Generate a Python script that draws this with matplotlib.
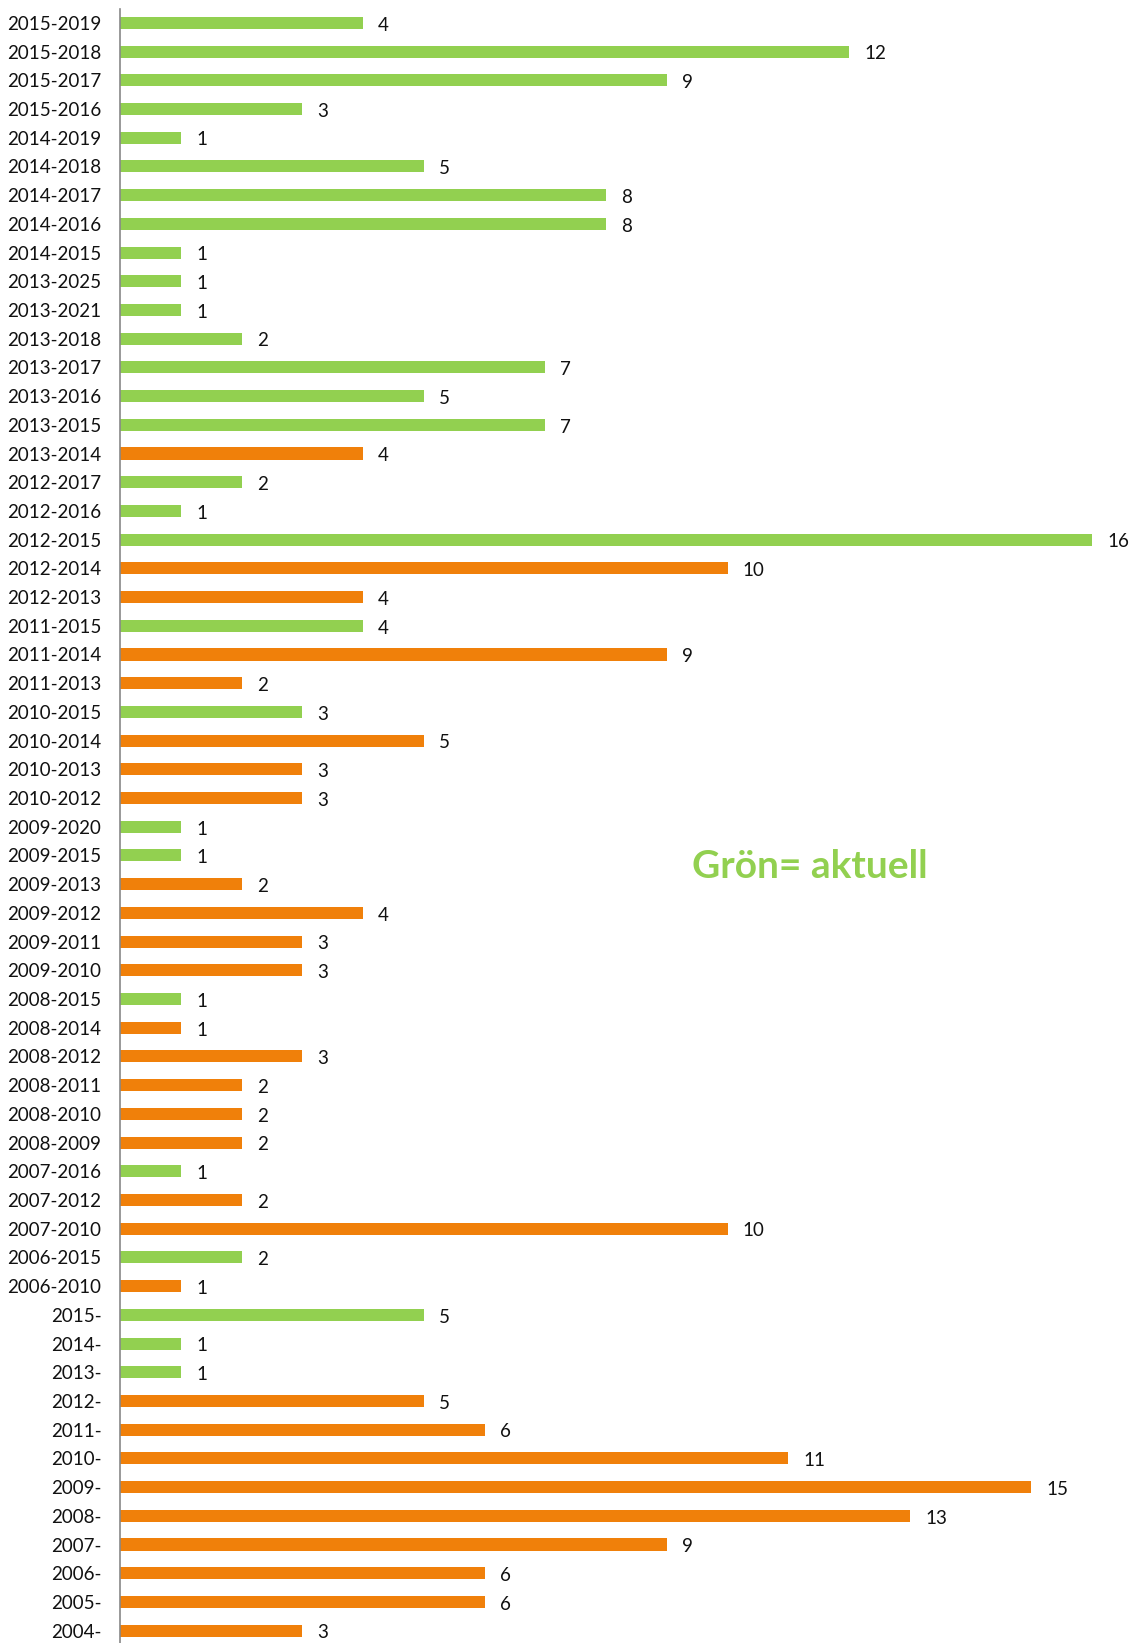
import matplotlib.pyplot as plt
import numpy as np

# periods, top to bottom as in the chart
perioder = ["2015-2019", "2015-2018", "2015-2017", "2015-2016", "2014-2019", "2014-2018",
            "2014-2017", "2014-2016", "2014-2015", "2013-2025", "2013-2021", "2013-2018",
            "2013-2017", "2013-2016", "2013-2015", "2013-2014", "2012-2017", "2012-2016",
            "2012-2015", "2012-2014", "2012-2013", "2011-2015", "2011-2014", "2011-2013",
            "2010-2015", "2010-2014", "2010-2013", "2010-2012", "2009-2020", "2009-2015",
            "2009-2013", "2009-2012", "2009-2011", "2009-2010", "2008-2015", "2008-2014",
            "2008-2012", "2008-2011", "2008-2010", "2008-2009", "2007-2016", "2007-2012",
            "2007-2010", "2006-2015", "2006-2010", "2015-", "2014-", "2013-", "2012-",
            "2011-", "2010-", "2009-", "2008-", "2007-", "2006-", "2005-", "2004-"]
antal = [4, 12, 9, 3, 1, 5, 8, 8, 1, 1, 1, 2, 7, 5, 7, 4, 2, 1, 16, 10, 4, 4, 9, 2,
         3, 5, 3, 3, 1, 1, 2, 4, 3, 3, 1, 1, 3, 2, 2, 2, 1, 2, 10, 2, 1, 5, 1, 1, 5,
         6, 11, 15, 13, 9, 6, 6, 3]
# 1 = aktuell (green), 0 = not (orange)
aktuell = [1, 1, 1, 1, 1, 1, 1, 1, 1, 1, 1, 1, 1, 1, 1, 0, 1, 1, 1, 0, 0, 1, 0, 0,
           1, 0, 0, 0, 1, 1, 0, 0, 0, 0, 1, 0, 0, 0, 0, 0, 1, 0, 0, 1, 0, 1, 1, 1, 0,
           0, 0, 0, 0, 0, 0, 0, 0]

gron = "#92D050"
orange = "#F0800A"
plt.rcParams['font.family'] = ['Lato', 'DejaVu Sans']

W, H = 1136, 1643
fig = plt.figure(figsize=(W / 100, H / 100), dpi=100)
ax = fig.add_axes([120 / W, -2 / H, 1 - 120 / W, (1636.5) / H])

y = np.arange(len(perioder))
farger = [gron if a else orange for a in aktuell]
ax.barh(y, antal, height=0.42, color=farger)

for yi, v in zip(y, antal):
    ax.text(v + 0.25, yi + 0.08, str(v), va="center", ha="left", fontsize=13.5,
            color="#111111")

ax.set_ylim(len(perioder) - 0.5, -0.5)
ax.set_xlim(0, (W - 120) / 60.75)
ax.set_yticks(y)
ax.set_yticklabels(perioder, fontsize=13.5, color="#111111")
ax.tick_params(axis="y", length=0, pad=13.5)
ax.set_xticks([])
for s in ["top", "right", "bottom"]:
    ax.spines[s].set_visible(False)
ax.spines["left"].set_color("#888888")
ax.spines["left"].set_linewidth(1.2)

fig.text(692 / W, 1 - 866 / H, "Grön= aktuell", color=gron, fontsize=28,
         fontweight="bold", va="center", ha="left")

fig.savefig("out.png", dpi=100)
